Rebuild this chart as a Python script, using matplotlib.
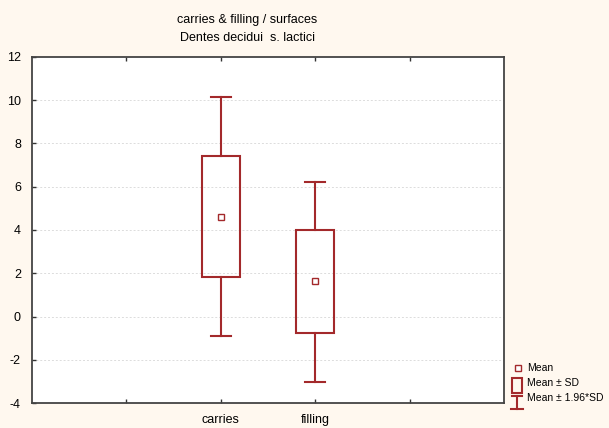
import matplotlib
matplotlib.use("Agg")
import matplotlib.pyplot as plt
from matplotlib.patches import Rectangle
from matplotlib.lines import Line2D

plt.rcParams['font.family'] = ['Liberation Sans', 'DejaVu Sans']

categories = ["carries", "filling"]
positions = [2, 3]
means = [4.60, 1.62]
box_low = [1.83, -0.76]
box_high = [7.42, 3.98]
whisker_low = [-0.88, -3.02]
whisker_high = [10.13, 6.23]
yticks = [-4, -2, 0, 2, 4, 6, 8, 10, 12]

W, H = 609, 428
red = "#a3292b"
bg = "#fff8ef"

fig = plt.figure(figsize=(W / 100, H / 100), dpi=100, facecolor=bg)
# axes in pixel coords: left 32, right 504, top 57, bottom 403
ax = fig.add_axes([32 / W, 1 - 403 / H, (504 - 32) / W, (403 - 57) / H])
ax.set_facecolor("white")
ax.set_xlim(0, 5)
ax.set_ylim(-4, 12)
ax.set_yticks(yticks)
ax.set_yticklabels([str(v) for v in yticks])
ax.set_xticks([1, 2, 3, 4])
ax.set_xticklabels(["", categories[0], categories[1], ""])
ax.tick_params(direction="in", length=3, width=1, labelsize=9, colors="#333333",
               labelcolor="black", top=True, right=False)
ax.tick_params(axis="y", pad=8)
ax.tick_params(axis="x", pad=8)
for s in ax.spines.values():
    s.set_color("#444444")
    s.set_linewidth(1.3)
for v in yticks[1:-1]:
    ax.axhline(v, color="#dcdcdc", lw=0.7, ls=(0, (2, 2)), zorder=0)

bw = 0.40
cw = 0.21
for p, m, bl, bh, wl, wh in zip(positions, means, box_low, box_high, whisker_low, whisker_high):
    ax.plot([p, p], [bh, wh], color=red, lw=1.5, zorder=2)
    ax.plot([p, p], [wl, bl], color=red, lw=1.5, zorder=2)
    ax.plot([p - cw / 2, p + cw / 2], [wh, wh], color=red, lw=1.5, zorder=2)
    ax.plot([p - cw / 2, p + cw / 2], [wl, wl], color=red, lw=1.5, zorder=2)
    ax.add_patch(Rectangle((p - bw / 2, bl), bw, bh - bl, fill=False, ec=red, lw=1.5, zorder=3))
    ax.plot([p], [m], marker="s", ms=4.5, mfc="white", mec=red, mew=1.0, zorder=4)

fig.text(247 / W, 1 - 20 / H, "carries & filling / surfaces", ha="center", va="center", fontsize=9)
fig.text(247 / W, 1 - 38 / H, "Dentes decidui  s. lactici", ha="center", va="center", fontsize=9)

# legend drawn in pixel-based figure coords
lg = fig.add_axes([0, 0, 1, 1], facecolor="none")
lg.set_xlim(0, W)
lg.set_ylim(H, 0)
lg.axis("off")
lg.plot([518], [368], marker="s", ms=4, mfc="white", mec=red, mew=1.0)
lg.text(527, 368, "Mean", va="center", ha="left", fontsize=7.5)
lg.add_patch(Rectangle((511.5, 378), 10, 15, fill=False, ec=red, lw=1.5))
lg.text(527, 383, "Mean ± SD", va="center", ha="left", fontsize=7.5)
lg.plot([517, 517], [396, 409], color=red, lw=1.5)
lg.plot([512, 522], [396, 396], color=red, lw=1.5)
lg.plot([511, 523], [409, 409], color=red, lw=1.5)
lg.text(527, 398, "Mean ± 1.96*SD", va="center", ha="left", fontsize=7.5)

fig.savefig("out.png", dpi=100, facecolor=bg)
